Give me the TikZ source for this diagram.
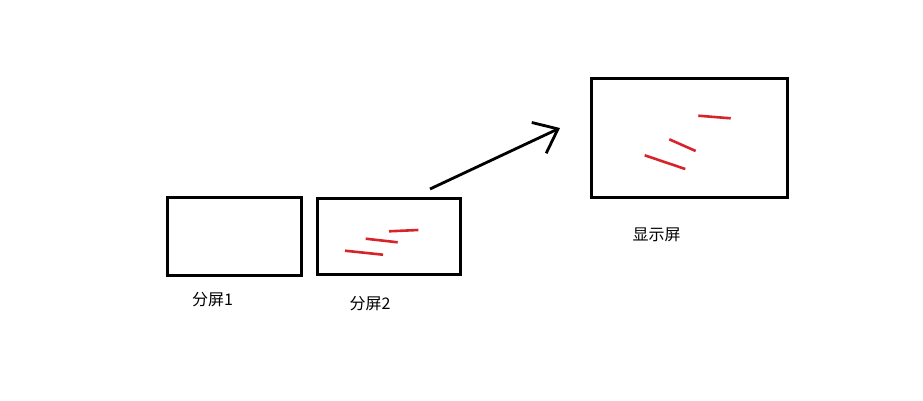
\documentclass[tikz,border=0pt]{standalone}
\usepackage{fontspec}
\setmainfont{Noto Sans CJK SC}
\usetikzlibrary{arrows.meta}
\definecolor{penred}{RGB}{214,36,42}
\tikzset{
  screen/.style={rectangle, draw, line width=3pt, inner sep=0pt},
  stroke/.style={penred, line width=2.6pt},
  caption/.style={inner sep=0pt, font=\fontsize{16pt}{19pt}\selectfont}
}
\begin{document}
\begin{tikzpicture}[x=1pt, y=-1pt]
      \useasboundingbox (0,0) rectangle (923,400);

      % the three screens
      \begin{scope}[every node/.style={screen}]
        \node [minimum width=134pt, minimum height=78pt] (scr1) at (234.7,236.3) {};
        \node [minimum width=143pt, minimum height=76pt] (scr2) at (388.8,236.3) {};
        \node [minimum width=196pt, minimum height=119pt] (disp) at (689.5,137.5) {};
      \end{scope}

      \node [caption] (lab1) at (212.5,299.5) {分屏1};
      \node [caption] (lab2) at (370,304) {分屏2};
      \node [caption] (lab3) at (656.5,235) {显示屏};

      % red strokes
      \begin{scope}[stroke]
        \draw (389,231.3) -- (418.3,230);
        \draw (365.7,238.7) -- (397.7,242.3);
        \draw (345,250.7) -- (383,254.7);
        \draw (698.3,115.7) -- (730.7,118.3);
        \draw (669.3,139.3) -- (695.7,151);
        \draw (644.7,155.3) -- (685.3,169);
      \end{scope}

      \coordinate (from) at (430,189);
      \coordinate (tip) at (560,128);
      \begin{scope}[-{Straight Barb[length=21pt, width=34pt, line width=2.8pt]}, line width=2.8pt]
        \draw (from) to (tip);
      \end{scope}
   \end{tikzpicture}
\end{document}
